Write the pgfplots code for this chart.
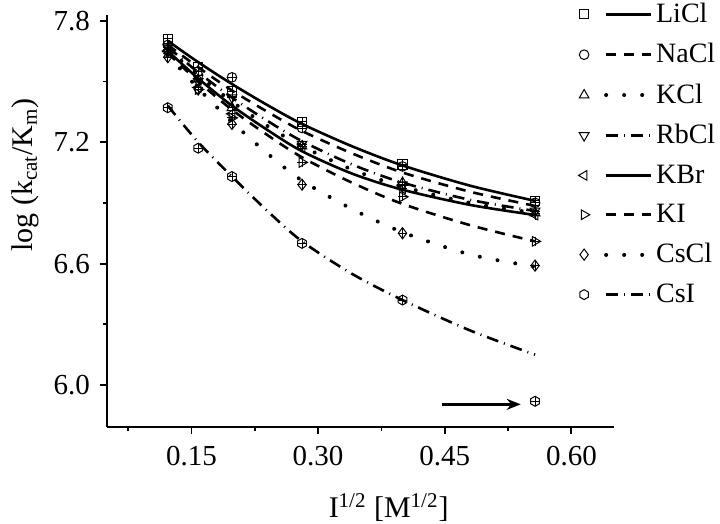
\documentclass[border=0pt]{standalone}
\usepackage{fontspec}
\setmainfont{Liberation Serif}
\usepackage{pgfplots}
\pgfplotsset{compat=1.18}
\usetikzlibrary{arrows.meta}
\pgfdeclareplotmark{hexagon}{%
  \pgfpathmoveto{\pgfqpointpolar{90}{\pgfplotmarksize}}%
  \pgfpathlineto{\pgfqpointpolar{150}{\pgfplotmarksize}}%
  \pgfpathlineto{\pgfqpointpolar{210}{\pgfplotmarksize}}%
  \pgfpathlineto{\pgfqpointpolar{270}{\pgfplotmarksize}}%
  \pgfpathlineto{\pgfqpointpolar{330}{\pgfplotmarksize}}%
  \pgfpathlineto{\pgfqpointpolar{30}{\pgfplotmarksize}}%
  \pgfpathclose\pgfusepathqstroke}
\tikzset{
  dashedL/.style={dash pattern=on 5pt off 4pt},
  dottedL/.style={dash pattern=on 0.01pt off 9pt, line cap=round, line width=2pt},
  dashdotL/.style={dash pattern=on 6pt off 3pt on 0.5pt off 3pt},
}
\newcommand{\legentry}[3]{%
  \addlegendimage{legend image code/.code={%
     \path[draw=none,fill=none] (-3pt,-5pt) rectangle (36pt,5pt);
     \draw[black,line width=1.3pt,#1] (11pt,0pt) -- (33.5pt,0pt);
     \draw[black,solid,line width=0.5pt,#2] plot coordinates {(0pt,0pt)};
  }}
  \addlegendentry{#3}%
}
\begin{document}
\begin{tikzpicture}
\begin{axis}[
  scale only axis, width=253.3pt, height=206pt,
  xmin=0.05, xmax=0.65, ymin=5.793, ymax=7.828,
  axis lines=left, axis line style={-, line width=0.9pt},
  xtick={0.15,0.30,0.45,0.60}, xticklabels={0.15,0.30,0.45,0.60},
  minor xtick={0.075,0.225,0.375,0.525},
  ytick={6.0,6.6,7.2,7.8}, yticklabels={6.0,6.6,7.2,7.8},
  minor ytick={6.3,6.9,7.5},
  tick align=outside, major tick length=3.5pt, minor tick length=2pt,
  every tick/.style={black, line width=0.9pt},
  tick label style={font=\fontsize{14.5}{17}\selectfont},
  xticklabel style={yshift=-2.5pt},
  yticklabel style={xshift=-1.5pt},
  xlabel={I\textsuperscript{1/2} [M\textsuperscript{1/2}]},
  ylabel={log (k\textsubscript{cat}/K\textsubscript{m})},
  xlabel style={at={(axis description cs:0.556,-0.195)}, anchor=center, font=\fontsize{15}{18}\selectfont},
  ylabel style={at={(axis description cs:-0.161,0.612)}, anchor=center, font=\fontsize{15}{18}\selectfont},
  legend style={draw=none, fill=none, at={(axis description cs:0.93,1.029)}, anchor=north west,
     inner sep=0pt, outer sep=0pt, row sep=9pt, column sep=0pt,
     font=\fontsize{14}{16}\selectfont, nodes={inner sep=0pt}},
  legend cell align=left,
]
% fitted curves
\addplot[black, line width=1.3pt, smooth, forget plot] coordinates {(0.122,7.70)(0.158,7.595)(0.198,7.487)(0.24,7.383)(0.281,7.29)(0.34,7.18)(0.40,7.085)(0.48,6.985)(0.557,6.91)};
\addplot[black, line width=1.3pt, dashedL, smooth, forget plot] coordinates {(0.122,7.68)(0.158,7.57)(0.198,7.455)(0.24,7.35)(0.281,7.255)(0.34,7.145)(0.40,7.05)(0.48,6.955)(0.557,6.885)};
\addplot[black, dottedL, smooth, forget plot] coordinates {(0.122,7.66)(0.158,7.53)(0.198,7.40)(0.24,7.28)(0.281,7.18)(0.34,7.065)(0.40,6.98)(0.48,6.90)(0.557,6.85)};
\addplot[black, line width=1.3pt, dashdotL, smooth, forget plot] coordinates {(0.122,7.67)(0.158,7.545)(0.198,7.42)(0.24,7.305)(0.281,7.205)(0.34,7.09)(0.40,7.00)(0.48,6.915)(0.557,6.86)};
\addplot[black, line width=1.3pt, smooth, forget plot] coordinates {(0.122,7.65)(0.158,7.515)(0.198,7.38)(0.24,7.26)(0.281,7.155)(0.34,7.045)(0.40,6.965)(0.48,6.89)(0.557,6.84)};
\addplot[black, line width=1.3pt, dashedL, smooth, forget plot] coordinates {(0.122,7.64)(0.158,7.50)(0.198,7.36)(0.24,7.235)(0.281,7.125)(0.34,7.00)(0.40,6.895)(0.48,6.79)(0.557,6.71)};
\addplot[black, dottedL, smooth, forget plot] coordinates {(0.122,7.63)(0.158,7.466)(0.198,7.30)(0.24,7.144)(0.281,7.01)(0.34,6.87)(0.40,6.755)(0.48,6.645)(0.557,6.585)};
\addplot[black, line width=1.3pt, dashdotL, smooth, forget plot] coordinates {(0.122,7.38)(0.158,7.20)(0.198,7.03)(0.24,6.86)(0.281,6.71)(0.34,6.55)(0.40,6.42)(0.48,6.27)(0.557,6.15)};
% data points
\addplot[black, only marks, mark=square, mark size=2.3pt, line width=0.5pt, forget plot] coordinates {(0.122,7.71)(0.158,7.57)(0.198,7.45)(0.281,7.30)(0.40,7.09)(0.557,6.91)};
\addplot[black, only marks, mark=o, mark size=2.4pt, line width=0.5pt, forget plot] coordinates {(0.122,7.68)(0.158,7.53)(0.198,7.52)(0.281,7.27)(0.40,7.08)(0.557,6.90)};
\addplot[black, only marks, mark=triangle, mark size=2.8pt, line width=0.5pt, forget plot] coordinates {(0.122,7.66)(0.158,7.51)(0.198,7.37)(0.281,7.18)(0.40,7.00)(0.557,6.85)};
\addplot[black, only marks, mark=triangle, mark size=2.8pt, mark options={rotate=180}, line width=0.5pt, forget plot] coordinates {(0.122,7.67)(0.158,7.50)(0.198,7.42)(0.281,7.19)(0.40,6.99)(0.557,6.86)};
\addplot[black, only marks, mark=triangle, mark size=2.8pt, mark options={rotate=90}, line width=0.5pt, forget plot] coordinates {(0.122,7.65)(0.158,7.47)(0.198,7.34)(0.281,7.17)(0.40,6.97)(0.557,6.84)};
\addplot[black, only marks, mark=triangle, mark size=2.8pt, mark options={rotate=-90}, line width=0.5pt, forget plot] coordinates {(0.122,7.64)(0.158,7.46)(0.198,7.32)(0.281,7.10)(0.40,6.93)(0.557,6.71)};
\addplot[black, only marks, mark=diamond, mark size=2.8pt, line width=0.5pt, forget plot] coordinates {(0.122,7.62)(0.158,7.46)(0.198,7.29)(0.281,6.99)(0.40,6.75)(0.557,6.59)};
\addplot[black, only marks, mark=hexagon, mark size=2.5pt, line width=0.5pt, forget plot] coordinates {(0.122,7.37)(0.158,7.17)(0.198,7.03)(0.281,6.70)(0.40,6.42)(0.557,5.92)};
\addplot[black, only marks, mark=+, mark size=2.3pt, line width=0.4pt, forget plot] coordinates {
(0.122,7.71)(0.158,7.57)(0.198,7.45)(0.281,7.30)(0.40,7.09)(0.557,6.91)
(0.122,7.68)(0.158,7.53)(0.198,7.52)(0.281,7.27)(0.40,7.08)(0.557,6.90)
(0.122,7.66)(0.158,7.51)(0.198,7.37)(0.281,7.18)(0.40,7.00)(0.557,6.85)
(0.122,7.67)(0.158,7.50)(0.198,7.42)(0.281,7.19)(0.40,6.99)(0.557,6.86)
(0.122,7.65)(0.158,7.47)(0.198,7.34)(0.281,7.17)(0.40,6.97)(0.557,6.84)
(0.122,7.64)(0.158,7.46)(0.198,7.32)(0.281,7.10)(0.40,6.93)(0.557,6.71)
(0.122,7.62)(0.158,7.46)(0.198,7.29)(0.281,6.99)(0.40,6.75)(0.557,6.59)
(0.122,7.37)(0.158,7.17)(0.198,7.03)(0.281,6.70)(0.40,6.42)(0.557,5.92)};
% legend
\legentry{solid}{mark=square, mark size=2.3pt}{LiCl}
\legentry{dashedL}{mark=o, mark size=2.4pt}{NaCl}
\legentry{dottedL}{mark=triangle, mark size=2.8pt}{KCl}
\legentry{dashdotL}{mark=triangle, mark size=2.8pt, mark options={rotate=180}}{RbCl}
\legentry{solid}{mark=triangle, mark size=2.8pt, mark options={rotate=90}}{KBr}
\legentry{dashedL}{mark=triangle, mark size=2.8pt, mark options={rotate=-90}}{KI}
\legentry{dottedL}{mark=diamond, mark size=2.8pt}{CsCl}
\legentry{dashdotL}{mark=hexagon, mark size=2.5pt}{CsI}
% arrow annotation
\draw[black, line width=1.3pt, -{Stealth[length=7pt, width=5.5pt]}] (axis cs:0.447,5.905) -- (axis cs:0.540,5.905);
\end{axis}
\pgfresetboundingbox
\path[use as bounding box] (-53.5pt,-48.5pt) rectangle (306.5pt,213.5pt);
\end{tikzpicture}
\end{document}
